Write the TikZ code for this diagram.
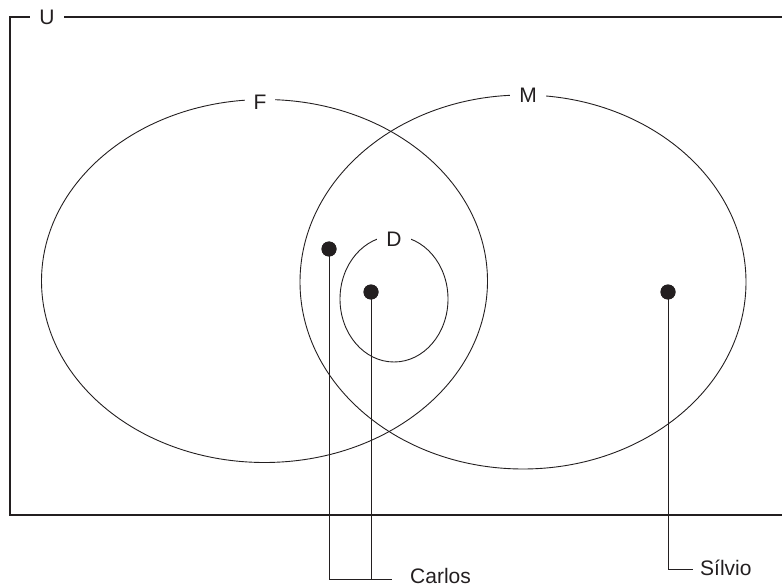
\documentclass[tikz,border=0pt]{standalone}
\usepackage{fontspec}
\setmainfont{Liberation Sans}
\usetikzlibrary{shapes.geometric}
\definecolor{ink}{HTML}{231F20}
\begin{document}
\begin{tikzpicture}[x=1pt,y=-1pt,
  setline/.style={draw=ink,line width=0.9pt},
  setshape/.style={ellipse,setline,inner sep=0pt},
  setlbl/.style={fill=white,text=ink,inner xsep=9pt,inner ysep=2pt,font=\fontsize{21}{25}\selectfont},
  persontext/.style={text=ink,inner sep=0pt,font=\fontsize{21}{25}\selectfont},
  setdot/.style={circle,fill=ink,inner sep=0pt,minimum size=15pt},
  leader/.style={draw=ink,line width=0.9pt}]
\useasboundingbox (0,0) rectangle (782,588);
% universe
\draw[draw=ink,line width=1.1pt] (782,17) -- (10,17) -- (10,515) -- (782,515);
\node[setlbl] (U) at (47,17) {U};
% sets
\node[setshape,minimum width=446pt,minimum height=363pt] (F) at (264.5,281) {};
\node[setshape,minimum width=446pt,minimum height=374pt] (M) at (523,282) {};
\node[setshape,minimum width=108pt,minimum height=126pt] (D) at (394,299) {};
\node[setlbl] (Fl) at (260,102) {F};
\node[setlbl] (Ml) at (528,95) {M};
\node[setlbl] (Dl) at (394,239) {D};
% points and leaders
\coordinate (cj) at (392,579);
\coordinate (sj) at (693,569);
\node[setdot] (p1) at (329,249) {};
\node[setdot] (p2) at (371,292) {};
\node[setdot] (p3) at (668,292) {};
\draw[leader] (p1.center) |- (cj);
\draw[leader] (p2.center) -- (p2 |- cj);
\draw[leader] (p3.center) |- (sj);
\node[setdot] at (p1) {};
\node[setdot] at (p2) {};
\node[setdot] at (p3) {};
\node[persontext,anchor=west] (carlos) at (410,576) {Carlos};
\node[persontext,anchor=west] (silvio) at (700,568) {Sílvio};
\end{tikzpicture}
\end{document}
